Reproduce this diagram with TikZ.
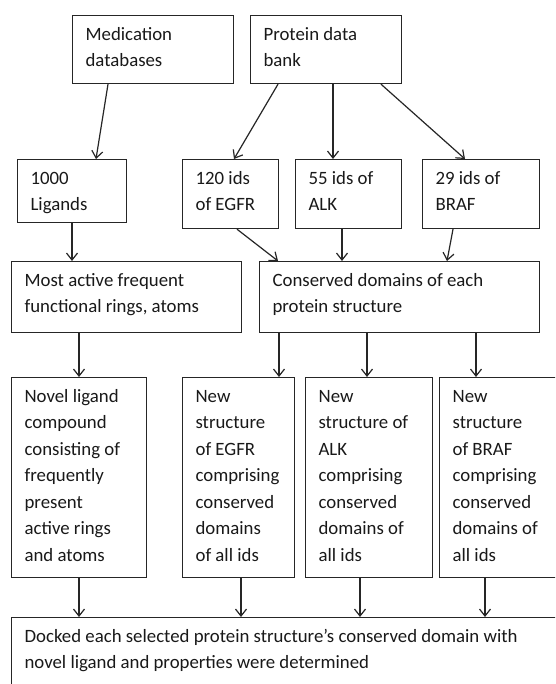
\documentclass[tikz,border=0pt]{standalone}
\usepackage{fontspec}
\setmainfont{Carlito}
\usetikzlibrary{arrows.meta}
\newcommand\Ln[1]{\moveright13pt\hbox{#1}}
\newcommand\bcont[3]{\vbox to #2pt{\fontsize{18.8pt}{26.5pt}\selectfont\hrule width #1pt height0pt depth0pt\vskip-2pt\hbox{}#3\vss}}
\tikzset{
  box/.style={draw=black!85, line width=1.2pt, inner sep=0pt, anchor=north west, text=black!90},
  arr/.style={draw=black!85, line width=1.2pt, -{Straight Barb[length=7pt,width=11pt,line width=1.2pt]}},
}
\begin{document}
\begin{tikzpicture}[x=1pt,y=1pt]
\useasboundingbox (0,0) rectangle (555,-684);
\clip (0,0) rectangle (555,-684);
\fill[white] (0,0) rectangle (555,-684);
% top row
\node[box] (med) at (72,-15) {\bcont{161}{68}{\Ln{Medication}\Ln{databases}}};
\node[box] (pdb) at (250,-15) {\bcont{151}{68}{\Ln{Protein data}\Ln{bank}}};
% second row
\node[box] (lig) at (17,-159) {\bcont{109}{63}{\Ln{1000}\Ln{Ligands}}};
\node[box] (egfr) at (182,-159) {\bcont{96}{69}{\Ln{120 ids}\Ln{of EGFR}}};
\node[box] (alk) at (295,-159) {\bcont{106}{69}{\Ln{55 ids of}\Ln{ALK}}};
\node[box] (braf) at (422,-159) {\bcont{117}{69}{\Ln{29 ids of}\Ln{BRAF}}};
% third row
\node[box] (act) at (11,-261) {\bcont{230}{71}{\Ln{Most active frequent}\Ln{functional rings, atoms}}};
\node[box] (cons) at (259,-261) {\bcont{280}{71}{\Ln{Conserved domains of each}\Ln{protein structure}}};
% fourth row
\node[box] (nov) at (11,-377) {\bcont{135}{200}{\Ln{Novel ligand}\Ln{compound}\Ln{consisting of}\Ln{frequently}\Ln{present}\Ln{active rings}\Ln{and atoms}}};
\node[box] (negfr) at (182,-377) {\bcont{112}{200}{\Ln{New}\Ln{structure}\Ln{of EGFR}\Ln{comprising}\Ln{conserved}\Ln{domains}\Ln{of all ids}}};
\node[box] (nalk) at (305,-377) {\bcont{127}{200}{\Ln{New}\Ln{structure of}\Ln{ALK}\Ln{comprising}\Ln{conserved}\Ln{domains of}\Ln{all ids}}};
\node[box] (nbraf) at (439,-377) {\bcont{125}{200}{\Ln{New}\Ln{structure}\Ln{of BRAF}\Ln{comprising}\Ln{conserved}\Ln{domains of}\Ln{all ids}}};
% bottom
\node[box] (dock) at (11,-617) {\bcont{560}{80}{\Ln{Docked each selected protein structure’s conserved domain with}\Ln{novel ligand and properties were determined}}};
% arrows
\draw[arr] ([xshift=36pt]med.south west) -- ([xshift=79pt]lig.north west);
\draw[arr] ([xshift=28pt]pdb.south west) -- ([xshift=52pt]egfr.north west);
\draw[arr] ([xshift=83pt]pdb.south west) -- ([xshift=38pt]alk.north west);
\draw[arr] ([xshift=131pt]pdb.south west) -- ([xshift=43pt]braf.north west);
\draw[arr] ([xshift=55pt]lig.south west) -- ([xshift=61pt]act.north west);
\draw[arr] ([xshift=55pt]egfr.south west) -- ([xshift=19pt]cons.north west);
\draw[arr] ([xshift=47pt]alk.south west) -- ([xshift=83pt]cons.north west);
\draw[arr] ([xshift=31pt]braf.south west) -- ([xshift=188pt]cons.north west);
\draw[arr] ([xshift=68pt]act.south west) -- ([xshift=68pt]nov.north west);
\draw[arr] ([xshift=20pt]cons.south west) -- ([xshift=97pt]negfr.north west);
\draw[arr] ([xshift=108pt]cons.south west) -- ([xshift=62pt]nalk.north west);
\draw[arr] ([xshift=217pt]cons.south west) -- ([xshift=37pt]nbraf.north west);
\draw[arr] ([xshift=68pt]nov.south west) -- ([xshift=68pt]dock.north west);
\draw[arr] ([xshift=59pt]negfr.south west) -- ([xshift=230pt]dock.north west);
\draw[arr] ([xshift=55pt]nalk.south west) -- ([xshift=349pt]dock.north west);
\draw[arr] ([xshift=46pt]nbraf.south west) -- ([xshift=474pt]dock.north west);
\end{tikzpicture}
\end{document}
